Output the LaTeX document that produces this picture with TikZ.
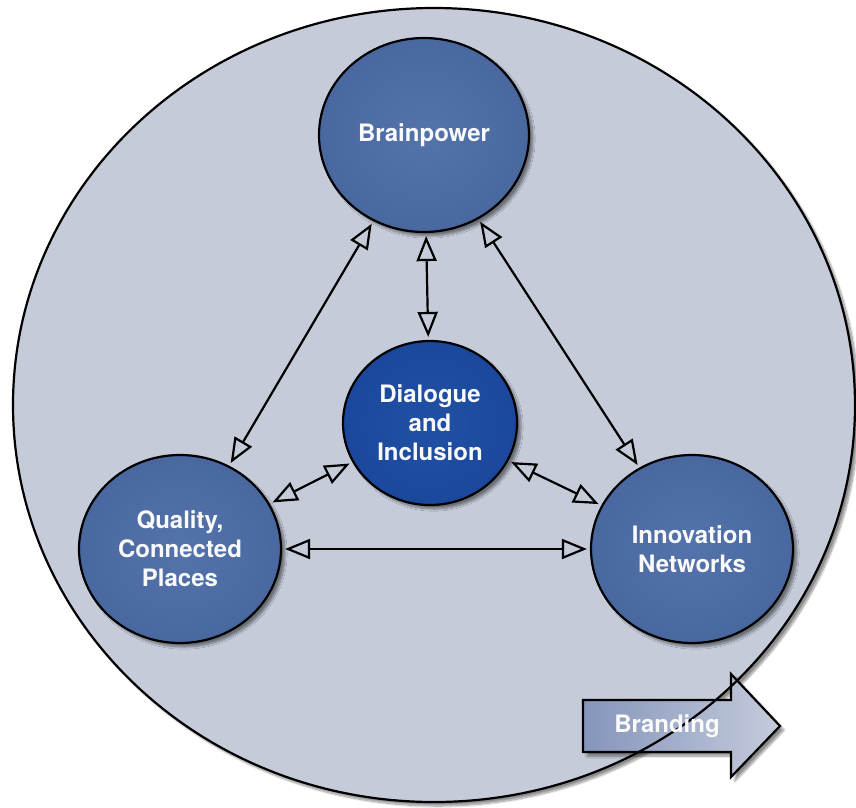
\documentclass[tikz,border=0pt]{standalone}
\usepackage{fontspec}
\setmainfont{TeX Gyre Heros}
\usepackage{xcolor}
\usetikzlibrary{arrows.meta,shapes.geometric,shadows.blur,positioning}
\definecolor{ringbg}{HTML}{C5CBD9}
\definecolor{pillar}{HTML}{4A68A0}
\definecolor{pillarlt}{HTML}{5473AB}
\definecolor{core}{HTML}{1B489C}
\definecolor{corelt}{HTML}{2050A4}
\definecolor{brandl}{HTML}{8595BB}
\definecolor{brandr}{HTML}{C4CBDB}

\begin{document}
\begin{tikzpicture}[x=1pt, y=-1pt]
		\tikzstyle{every node}=[font=\fontsize{24}{29}\selectfont\bfseries, text=white!96!gray, align=center]
		\tikzstyle{soft shadow}=[blur shadow={shadow xshift=4pt, shadow yshift=-4pt, shadow blur steps=12, shadow opacity=45}]
		\tikzstyle{pillar node}=[ellipse, draw=black, line width=2.2pt, inner sep=0pt, inner color=pillarlt, outer color=pillar, soft shadow]
		\tikzstyle{core node}=[ellipse, draw=black, line width=2.2pt, inner sep=0pt, inner color=corelt, outer color=core, soft shadow]
		\tikzstyle{link}=[line width=2.2pt, {Triangle[open, length=25pt, width=20pt]}-{Triangle[open, length=25pt, width=20pt]}, shorten >=3pt, shorten <=3pt]
		\useasboundingbox (0,0) rectangle (856,807);
		% outer ring
		\path [fill=ringbg, soft shadow] (434,405) ellipse [x radius=421, y radius=397];
		% the four circles
		\node [pillar node, minimum width=210pt, minimum height=194pt] (brain) at (424,135) {Brainpower};
		\node [core node, minimum width=174pt, minimum height=164pt] (dialog) at (430,423) {Dialogue\\and\\Inclusion};
		\node [pillar node, minimum width=202pt, minimum height=188pt] (places) at (180,549) {Quality,\\Connected\\Places};
		\node [pillar node, minimum width=202pt, minimum height=188pt] (innov) at (692,549) {Innovation\\Networks};
		\draw [link] (brain) -- (places);
		\draw [link] (brain) -- (innov);
		\draw [link] (brain) -- (dialog);
		\draw [link] (dialog) -- (places);
		\draw [link] (dialog) -- (innov);
		\draw [link] (places) -- (innov);
		% branding arrow
		\path [left color=brandl, right color=brandr, draw=black, line width=2.2pt, line join=miter, soft shadow] (583,700) -- (731,700) -- (731,674) -- (780,726) -- (731,777) -- (731,752) -- (583,752) -- cycle;
		\draw [line width=2.2pt] (434,405) ellipse [x radius=421, y radius=397];
		\node (brand) at (667,726) {Branding};
\end{tikzpicture}
\end{document}
